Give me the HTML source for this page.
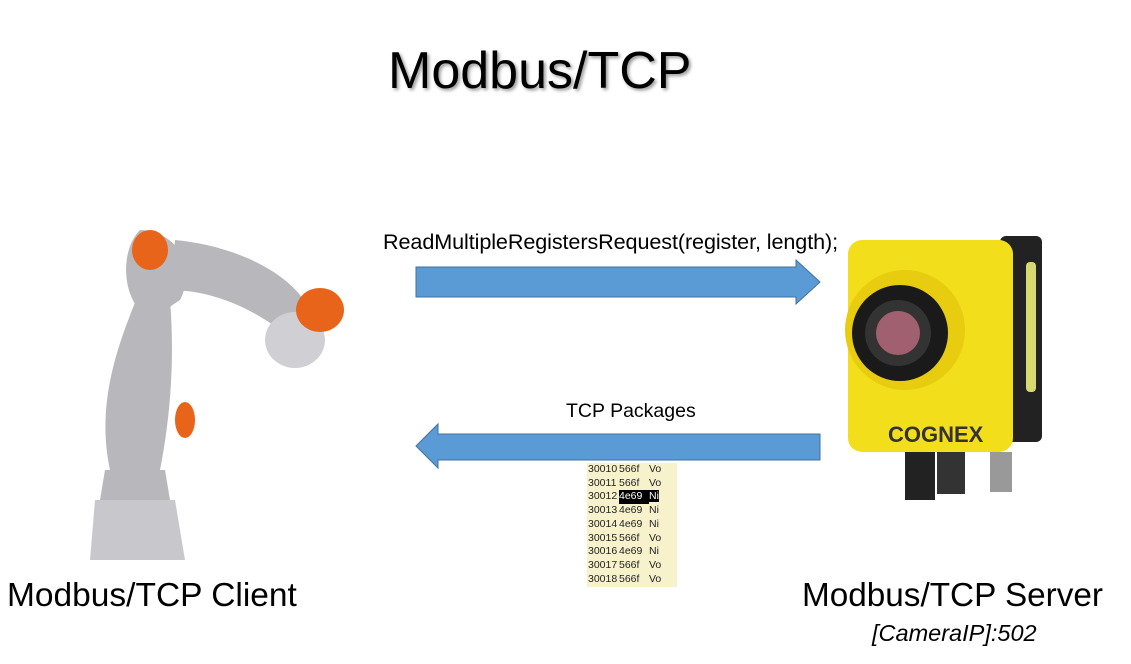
<!DOCTYPE html>
<html><head><style>
body{margin:0;width:1131px;height:664px;background:#fff;position:relative;overflow:hidden;font-family:"Liberation Sans",sans-serif}
.t{position:absolute;white-space:nowrap;color:#000}
#tbl{position:absolute;left:587px;top:463px;width:90px;height:124px;background:#f7f2cc;font-size:10.5px;line-height:13.7px;color:#222}
#tbl div{padding-left:1px}
#tbl span.n{display:inline-block;width:31px}
#tbl span.h{display:inline-block;width:30px}
</style></head><body>
<div class="t" style="left:388px;top:41px;font-size:52px;text-shadow:2px 2px 3px #999">Modbus/TCP</div>
<div class="t" style="left:383px;top:229px;font-size:21.6px;letter-spacing:-0.1px">ReadMultipleRegistersRequest(register, length);</div>
<div class="t" style="left:566px;top:400px;font-size:19.5px">TCP Packages</div>
<div class="t" style="left:7px;top:577px;font-size:33.5px">Modbus/TCP Client</div>
<div class="t" style="left:802px;top:577px;font-size:33.3px">Modbus/TCP Server</div>
<div class="t" style="left:872px;top:620px;font-size:23.5px;font-style:italic">[CameraIP]:502</div>
<svg width="1131" height="664" style="position:absolute;left:0;top:0">
<polygon points="416,267 796,267 796,260 820,282 796,304 796,297 416,297" fill="#5b9bd5" stroke="#41719c"/>
<polygon points="820,434 438,434 438,424 416,446 438,468 438,460 820,460" fill="#5b9bd5" stroke="#41719c"/>
<rect x="1000" y="236" width="42" height="206" rx="6" fill="#222"/>
<rect x="1026" y="262" width="10" height="130" rx="4" fill="#d8d870"/>
<rect x="848" y="240" width="165" height="212" rx="14" fill="#f2de1a"/>
<circle cx="905" cy="330" r="60" fill="#e8cc10"/>
<circle cx="900" cy="333" r="48" fill="#1a1a1a"/>
<circle cx="898" cy="333" r="33" fill="#333"/>
<circle cx="898" cy="333" r="22" fill="#a06070"/>
<text x="888" y="442" font-size="22" font-weight="bold" fill="#333" font-family="Liberation Sans">COGNEX</text>
<rect x="905" y="452" width="30" height="48" fill="#222"/><rect x="937" y="452" width="28" height="42" fill="#333"/><rect x="990" y="452" width="22" height="40" fill="#999"/>
<g fill="#b8b8bc">
<path d="M95,500 L175,500 L185,560 L90,560 Z" fill="#c8c8cc"/>
<path d="M105,470 L165,470 L170,500 L100,500 Z"/>
<path d="M140,290 C120,340 95,400 110,470 L160,470 C170,420 175,360 170,300 Z"/>
<path d="M140,230 C170,230 200,260 180,300 L150,320 C120,300 120,250 140,230 Z"/>
<path d="M175,240 C230,245 290,270 310,310 L280,330 C240,300 200,290 170,290 Z"/>
<ellipse cx="295" cy="340" rx="30" ry="28" fill="#d0d0d4"/>
</g>
<ellipse cx="150" cy="250" rx="18" ry="20" fill="#e8641a"/>
<ellipse cx="320" cy="310" rx="24" ry="22" fill="#e8641a"/>
<ellipse cx="185" cy="420" rx="10" ry="18" fill="#e8641a"/>
</svg>
<div id="tbl">
<div><span class="n">30010</span><span class="h">566f</span>Vo</div>
<div><span class="n">30011</span><span class="h">566f</span>Vo</div>
<div><span class="n">30012</span><span class="h" style="background:#000;color:#fff">4e69</span><span style="background:#000;color:#fff">Ni</span></div>
<div><span class="n">30013</span><span class="h">4e69</span>Ni</div>
<div><span class="n">30014</span><span class="h">4e69</span>Ni</div>
<div><span class="n">30015</span><span class="h">566f</span>Vo</div>
<div><span class="n">30016</span><span class="h">4e69</span>Ni</div>
<div><span class="n">30017</span><span class="h">566f</span>Vo</div>
<div><span class="n">30018</span><span class="h">566f</span>Vo</div>
</div>
</body></html>
